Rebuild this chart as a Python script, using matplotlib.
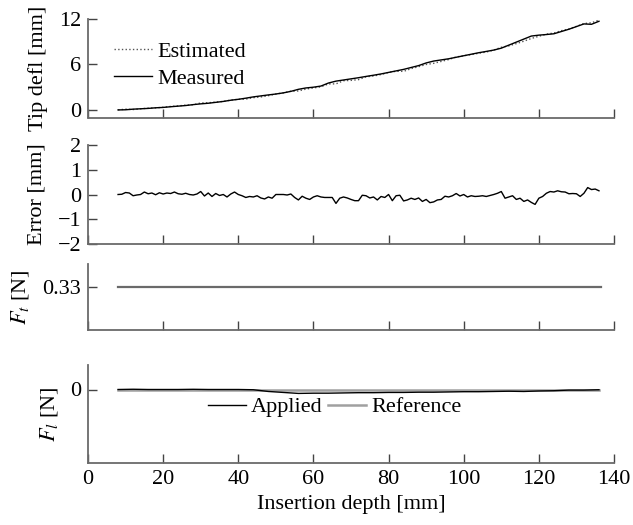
import numpy as np
import matplotlib
matplotlib.use("Agg")
import matplotlib.pyplot as plt

plt.rcParams['font.family'] = ['Liberation Serif', 'DejaVu Serif']
plt.rcParams['mathtext.fontset'] = 'stix'
plt.rcParams['font.size'] = 16

# ---------------- data ----------------
defl_x = list(range(8, 137, 2))
measured = [0.00, 0.02, 0.10, 0.15, 0.20, 0.28, 0.33, 0.42, 0.50, 0.58,
            0.70, 0.80, 0.88, 1.00, 1.12, 1.28, 1.40, 1.55, 1.72, 1.85,
            1.98, 2.10, 2.25, 2.45, 2.72, 2.90, 3.00, 3.15, 3.55, 3.80,
            3.95, 4.10, 4.25, 4.42, 4.58, 4.75, 4.95, 5.15, 5.35, 5.60,
            5.85, 6.20, 6.45, 6.60, 6.75, 6.95, 7.15, 7.35, 7.55, 7.72,
            7.90, 8.15, 8.55, 8.95, 9.35, 9.75, 9.87, 9.95, 10.05, 10.35,
            10.65, 11.00, 11.35, 11.30, 11.70]

err_x = list(range(8, 137))
error = [0.00, 0.01, 0.08, 0.06, -0.05, -0.02, 0.00, 0.10, 0.03, 0.06,
         -0.01, 0.07, 0.02, 0.06, 0.04, 0.10, 0.03, 0.01, 0.05, 0.00,
         -0.02, 0.02, 0.12, -0.06, 0.06, -0.08, 0.04, -0.04, 0.00, -0.10,
         0.02, 0.10, 0.00, -0.05, -0.12, -0.08, -0.10, -0.05, -0.14, -0.18,
         -0.10, -0.15, 0.00, 0.00, 0.00, -0.02, 0.02, -0.12, -0.22, -0.07,
         -0.15, -0.20, -0.10, -0.05, -0.10, -0.12, -0.12, -0.12, -0.36, -0.15,
         -0.10, -0.14, -0.20, -0.25, -0.25, -0.03, -0.05, -0.14, -0.10, -0.22,
         -0.08, -0.12, 0.00, -0.25, -0.05, -0.03, -0.26, -0.22, -0.15, -0.20,
         -0.14, -0.28, -0.20, -0.33, -0.30, -0.22, -0.20, -0.07, -0.10, -0.05,
         0.04, -0.06, 0.00, -0.10, -0.05, -0.08, -0.07, -0.05, -0.08, -0.04,
         0.00, 0.05, 0.12, -0.15, -0.10, -0.05, -0.20, -0.15, -0.28, -0.22,
         -0.32, -0.40, -0.15, -0.08, 0.05, 0.12, 0.10, 0.15, 0.11, 0.10,
         0.03, 0.04, 0.03, -0.08, 0.05, 0.28, 0.20, 0.22, 0.15]

estimated = [m + e for m, e in zip(measured, error[::2])]

ft_x = [8, 136.5]
ft_val = [0.33, 0.33]

fl_x = [8, 12, 16, 20, 24, 28, 32, 36, 40, 44, 48, 52, 56, 60, 64, 68, 72,
        76, 80, 84, 88, 92, 96, 100, 104, 108, 112, 116, 120, 124, 128,
        132, 136]
applied = [0.0, 0.005, 0.0, 0.0, 0.0, 0.004, 0.0, 0.0, 0.0, -0.005, -0.04,
           -0.06, -0.08, -0.075, -0.075, -0.07, -0.065, -0.065, -0.06, -0.06,
           -0.055, -0.055, -0.05, -0.045, -0.045, -0.04, -0.035, -0.04, -0.03,
           -0.025, -0.012, -0.012, -0.005]
reference = [0.0] * len(fl_x)

xticks = [0, 20, 40, 60, 80, 100, 120, 140]

# ---------------- figure ----------------
W, H = 633, 525
fig = plt.figure(figsize=(W / 100, H / 100), dpi=100)

def px_axes(top, bottom):
    left, right = 88, 614
    return fig.add_axes([left / W, 1 - bottom / H, (right - left) / W, (bottom - top) / H])

ax1 = px_axes(19, 117.5)
ax2 = px_axes(145, 244)
ax3 = px_axes(264, 330)
ax4 = px_axes(365, 463)

spine_c = '#6a6a6a'
for ax in (ax1, ax2, ax3, ax4):
    ax.spines['top'].set_visible(False)
    ax.spines['right'].set_visible(False)
    for s in ('left', 'bottom'):
        ax.spines[s].set_color(spine_c)
        ax.spines[s].set_linewidth(1.3)
    ax.set_xlim(0, 140)
    ax.set_xticks(xticks)
    ax.tick_params(direction='in', length=6.5, width=1.0, color='#444444',
                   labelsize=16, pad=5)
    if ax is not ax4:
        ax.tick_params(labelbottom=False)

# Panel 1
ax1.plot(defl_x, estimated, ls=':', color='#555555', lw=1.0, label='Estimated')
ax1.plot(defl_x, measured, color='black', lw=1.0, label='Measured')
ax1.set_ylim(-1, 12)
ax1.set_yticks([0, 6, 12])
ax1.set_ylabel('Tip defl [mm]', labelpad=8)
ax1.legend(loc='center left', bbox_to_anchor=(0.05, 0.53), frameon=False,
           borderpad=0, borderaxespad=0, handlelength=1.7, handletextpad=0.25,
           labelspacing=0.3, fontsize=16)

# Panel 2
ax2.plot(err_x, error, color='black', lw=1.0)
ax2.set_ylim(-2, 2)
ax2.set_yticks([-2, -1, 0, 1, 2])
ax2.set_ylabel('Error [mm]', labelpad=8)

# Panel 3
ax3.plot(ft_x, ft_val, color='#6a6a6a', lw=1.6)
ax3.set_ylim(0.2, 0.4)
ax3.set_yticks([0.33])
ax3.set_yticklabels(['0.33'])
ax3.set_ylabel('$F_t$ [N]', labelpad=8)

# Panel 4
ax4.plot(fl_x, reference, color='#a0a0a0', lw=1.8, label='Reference', zorder=2)
ax4.plot(fl_x, applied, color='black', lw=1.0, label='Applied', zorder=3)
ax4.set_ylim(-1.5, 0.5)
ax4.set_yticks([0])
ax4.set_ylabel('$F_l$ [N]', labelpad=7)
ax4.set_xlabel('Insertion depth [mm]')
h, l = ax4.get_legend_handles_labels()
ax4.legend([h[1], h[0]], [l[1], l[0]], loc='center left',
           bbox_to_anchor=(0.228, 0.571), ncol=2, frameon=False, borderpad=0,
           borderaxespad=0, handlelength=1.7, handletextpad=0.25,
           columnspacing=0.25, fontsize=16)

fig.savefig('out.png', dpi=100)
